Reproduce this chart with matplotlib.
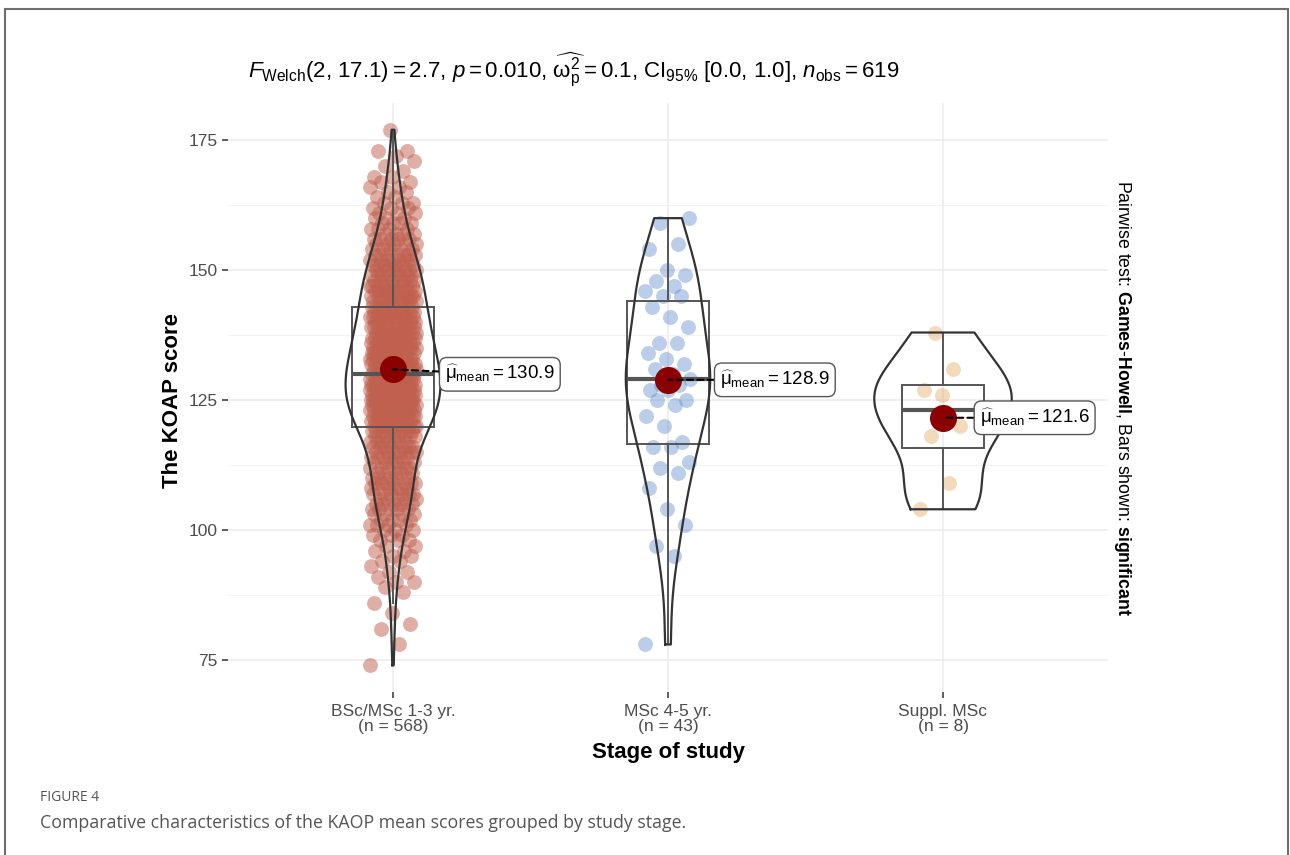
import numpy as np
import matplotlib
matplotlib.use("Agg")
import matplotlib.pyplot as plt
from matplotlib.patches import Rectangle

plt.rcParams['font.family'] = ['Liberation Sans', 'DejaVu Sans']
plt.rcParams['mathtext.fontset'] = 'custom'
plt.rcParams['mathtext.rm'] = 'Liberation Sans'
plt.rcParams['mathtext.it'] = 'Liberation Sans:italic'
plt.rcParams['mathtext.bf'] = 'Liberation Sans:bold'
plt.rcParams['mathtext.sf'] = 'Liberation Sans'

# ---------------- data ----------------
categories = ["BSc/MSc 1-3 yr.", "MSc 4-5 yr.", "Suppl. MSc"]
group_n = [568, 43, 8]
group_means = [130.9, 128.9, 121.6]

# BSc/MSc 1-3 yr.: score values and how many students had each score (read from the strip)
bsc_scores = list(range(74, 178))
bsc_counts = [1, 0, 0, 0, 1, 0, 0, 1, 1, 0, 1, 0, 1, 0, 1, 1,          # 74-89
              2, 1, 2, 1, 2, 2, 2, 2, 3, 3,                            # 90-99
              3, 4, 4, 4, 5, 5, 5, 6, 6, 7,                            # 100-109
              5, 5, 6, 6, 6, 7, 7, 7, 8, 8,                            # 110-119
              11, 12, 13, 13, 13, 14, 14, 14, 14, 14,                  # 120-129
              13, 13, 13, 13, 12, 11, 11, 11, 11, 10,                  # 130-139
              10, 10, 9, 9, 10, 9, 9, 9, 8, 8,                         # 140-149
              8, 7, 7, 7, 5, 5, 5, 4, 4, 4,                            # 150-159
              3, 3, 3, 3, 2, 2, 2, 2, 2, 1,                            # 160-169
              1, 1, 1, 2, 0, 0, 0, 1]                                  # 170-177

msc_scores = [78, 95, 97, 101, 104, 108, 111, 112, 113, 116, 116, 117, 120, 122,
              124, 125, 125, 127, 127, 128, 128, 129, 130, 131, 132, 133, 134,
              136, 136, 139, 141, 143, 145, 145, 146, 147, 148, 149, 150, 154,
              155, 159, 160]

suppl_scores = [104, 109, 118, 120, 126, 127, 131, 138]

title_tex = (r"$F_{\mathrm{Welch}}(2$, $17.1) = 2.7$, $p = 0.010$, "
             r"$\widehat{\mathrm{ω}_{\mathrm{p}}^{2}} = 0.1$, $\mathrm{CI}_{95\%}$ [0.0, 1.0], "
             r"$n_{\mathrm{obs}} = 619$")
right_label = r"Pairwise test: $\mathbf{Games}$-$\mathbf{Howell}$, Bars shown: $\mathbf{significant}$"
y_label = "The KOAP score"
x_label = "Stage of study"
fig_label = "FIGURE 4"
caption = "Comparative characteristics of the KAOP mean scores grouped by study stage."

# ---------------- styling ----------------
point_colors = ['#C0604F', '#5C89CB', '#E0A85E']
point_alpha = [0.5, 0.42, 0.42]
W, H = 1290, 855

groups = [np.repeat(bsc_scores, bsc_counts).astype(float),
          np.array(msc_scores, float),
          np.array(suppl_scores, float)]

fig = plt.figure(figsize=(W / 100, H / 100), dpi=100)
ax = fig.add_axes([228 / W, 1 - 692 / H, 880 / W, 589 / H])

allv = np.concatenate(groups)
lo, hi = allv.min(), allv.max()
pad = 0.05 * (hi - lo)
ax.set_xlim(0.4, 3.6)
ax.set_ylim(lo - pad, hi + pad)

ax.set_yticks([75, 100, 125, 150, 175])
ax.set_yticks([87.5, 112.5, 137.5, 162.5], minor=True)
ax.set_xticks([1, 2, 3])
ax.set_xticklabels([f"{c}\n(n = {n})" for c, n in zip(categories, group_n)],
                   linespacing=1.0)
ax.grid(True, which='major', color='#EBEBEB', lw=1.1)
ax.grid(True, which='minor', axis='y', color='#F2F2F2', lw=0.8)
ax.set_axisbelow(True)
for s in ax.spines.values():
    s.set_visible(False)
ax.tick_params(which='minor', length=0)
ax.tick_params(which='major', length=4, width=1.1, color='#333333',
               labelcolor='#4D4D4D', labelsize=12.5, pad=3.5)
ax.tick_params(axis='x', pad=4.5)


def kde(vals, grid):
    n = len(vals)
    sd = vals.std(ddof=1)
    q75, q25 = np.percentile(vals, [75, 25])
    bw = 0.9 * min(sd, (q75 - q25) / 1.34) * n ** -0.2
    z = (grid[:, None] - vals[None, :]) / bw
    return np.exp(-0.5 * z ** 2).sum(1) / (n * bw * np.sqrt(2 * np.pi))


grids = [np.linspace(v.min(), v.max(), 512) for v in groups]
dens = [kde(v, g) for v, g in zip(groups, grids)]
dmax = max(d.max() for d in dens)

golden = 0.6180339887
for i, (vals, g, d) in enumerate(zip(groups, grids, dens)):
    xc = i + 1
    # jittered points (deterministic spread)
    k = np.arange(len(vals))
    jit = ((k * golden) % 1.0 - 0.5) * 2 * 0.085
    ax.scatter(xc + jit, vals, s=115, color=point_colors[i],
               alpha=point_alpha[i], lw=0, zorder=2)
    # boxplot
    q1, med, q3 = np.percentile(vals, [25, 50, 75])
    iqr = q3 - q1
    wlo = vals[vals >= q1 - 1.5 * iqr].min()
    whi = vals[vals <= q3 + 1.5 * iqr].max()
    bw_ = 0.15
    ax.add_patch(Rectangle((xc - bw_, q1), 2 * bw_, q3 - q1, fill=False,
                           ec='#555555', lw=1.4, zorder=3))
    ax.plot([xc, xc], [q3, whi], color='#555555', lw=1.4, zorder=3)
    ax.plot([xc, xc], [wlo, q1], color='#555555', lw=1.4, zorder=3)
    ax.plot([xc - bw_, xc + bw_], [med, med], color='#555555', lw=3.0,
            zorder=3, solid_capstyle='butt')
    # violin (area scaled, width 0.5)
    hw = 0.25 * d / dmax
    xs = np.concatenate([xc - hw, (xc + hw)[::-1], [xc - hw[0]]])
    ys = np.concatenate([g, g[::-1], [g[0]]])
    ax.plot(xs, ys, color='#333333', lw=1.6, zorder=4)

# means + labels
label_off = [(37.5, -3.5), (37.5, 0), (26.5, 0)]
for i, m in enumerate(group_means):
    xc = i + 1
    ax.scatter([xc], [m], s=380, color='#8B0000', zorder=5, lw=0)
    ax.annotate(rf"$\widehat{{\mathrm{{μ}}}}_{{\mathrm{{mean}}}} = {m:.1f}$",
                xy=(xc, m), xytext=label_off[i], textcoords='offset points',
                ha='left', va='center', fontsize=13.5, zorder=6,
                bbox=dict(boxstyle='round,pad=0.3,rounding_size=0.4',
                          fc='white', ec='#555555', lw=1.0),
                arrowprops=dict(arrowstyle='-', color='black', lw=1.5,
                                linestyle=(0, (3, 2)), shrinkA=0, shrinkB=0))

# texts
fig.text(248 / W, 1 - 70 / H, title_tex, fontsize=16.0, ha='left', va='center')
fig.text(172 / W, 1 - 400 / H, y_label, rotation=90, fontsize=16,
         fontweight='bold', ha='center', va='center')
fig.text(668 / W, 1 - 752 / H, x_label, fontsize=16, fontweight='bold',
         ha='center', va='center')
fig.text(1122 / W, 1 - 398 / H, right_label, rotation=-90, fontsize=12.8,
         ha='center', va='center')
fig.text(40 / W, 1 - 797 / H, fig_label, fontsize=10, color='#555555',
         family=['Open Sans', 'DejaVu Sans'], ha='left', va='center')
fig.text(40 / W, 1 - 823 / H, caption, fontsize=12.8, color='#555555',
         family=['Open Sans', 'DejaVu Sans'], ha='left', va='center')

# page frame
fig.add_artist(Rectangle((4.5 / W, -0.1), (1287.5 - 4.5) / W, (1 - 9.5 / H) + 0.1,
                         transform=fig.transFigure, fill=False, ec='#6E6E6E',
                         lw=1.5))

fig.savefig("out.png", dpi=100)
